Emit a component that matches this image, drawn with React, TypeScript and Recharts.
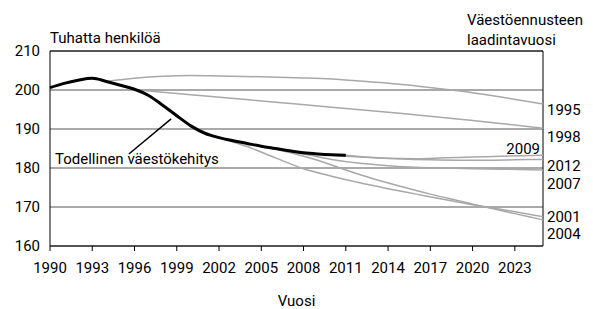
import { LineChart, Line, XAxis, YAxis, CartesianGrid, ReferenceLine } from 'recharts';

// Toteutunut väestökehitys (tuhatta henkilöä)
const actualYears = [1990, 1991, 1992, 1993, 1994, 1995, 1996, 1997, 1998, 1999, 2000, 2001, 2002, 2003, 2004, 2005, 2006, 2007, 2008, 2009, 2010, 2011];
const actualValues = [200.6, 201.7, 202.5, 203.0, 202.2, 201.2, 200.2, 198.6, 196.1, 193.4, 190.8, 188.9, 187.8, 187.0, 186.3, 185.6, 185.0, 184.4, 183.9, 183.6, 183.4, 183.3];

// Ennusteet laadintavuoden mukaan
const years1995 = [1994, 1996, 1998, 2000, 2002, 2005, 2008, 2010, 2012, 2015, 2018, 2020, 2022, 2025];
const values1995 = [202.2, 203.0, 203.5, 203.7, 203.6, 203.4, 203.1, 202.8, 202.3, 201.4, 200.2, 199.3, 198.2, 196.4];

const years1998 = [1996, 2000, 2005, 2010, 2015, 2020, 2025];
const values1998 = [200.1, 198.8, 197.2, 195.6, 194.0, 192.2, 190.2];

const years2001 = [2000, 2002, 2004, 2006, 2008, 2010, 2012, 2014, 2016, 2018, 2020, 2022, 2025];
const values2001 = [190.8, 187.8, 185.5, 182.6, 179.8, 177.9, 176.2, 174.7, 173.3, 171.9, 170.6, 169.4, 167.5];

const years2004 = [2003, 2005, 2007, 2009, 2011, 2013, 2015, 2017, 2019, 2021, 2023, 2025];
const values2004 = [187.0, 185.6, 184.0, 182.0, 179.5, 177.2, 175.2, 173.3, 171.6, 169.9, 168.3, 166.7];

const years2007 = [2006, 2008, 2010, 2012, 2014, 2016, 2018, 2020, 2022, 2025];
const values2007 = [185.0, 183.6, 182.2, 181.2, 180.6, 180.2, 180.0, 179.8, 179.7, 179.5];

const years2009 = [2008, 2010, 2012, 2014, 2016, 2018, 2020, 2022, 2025];
const values2009 = [184.0, 183.3, 182.8, 182.5, 182.4, 182.6, 182.8, 183.0, 183.3];

const years2012 = [2011, 2013, 2015, 2017, 2019, 2021, 2023, 2025];
const values2012 = [183.3, 182.7, 182.3, 182.1, 182.0, 182.0, 182.1, 182.2];

const xTicks = [1990, 1993, 1996, 1999, 2002, 2005, 2008, 2011, 2014, 2017, 2020, 2023];
const yTicks = [160, 170, 180, 190, 200, 210];

const toRows = (years: number[], values: number[]) => years.map((year, i) => ({ year, value: values[i] }));

const FONT = 'Roboto, "Open Sans", sans-serif';
const GREY = '#a8a8a8';

// näyttää laadintavuoden sarjan viimeisen pisteen kohdalla
const endLabel = (text: string, count: number, dy: number, inside = false) => (props: any) => {
  if (props.index !== count - 1) return null;
  return (
    <text
      x={props.x + (inside ? -3 : 4)}
      y={props.y + dy}
      textAnchor={inside ? 'end' : 'start'}
      fontFamily={FONT}
      fontSize={15}
      fill="#000"
    >
      {text}
    </text>
  );
};

const forecasts = [
  { name: '1995', years: years1995, values: values1995, dy: 10.7, inside: false },
  { name: '1998', years: years1998, values: values1998, dy: 13.8, inside: false },
  { name: '2001', years: years2001, values: values2001, dy: 5, inside: false },
  { name: '2004', years: years2004, values: values2004, dy: 19.5, inside: false },
  { name: '2007', years: years2007, values: values2007, dy: 19, inside: false },
  { name: '2009', years: years2009, values: values2009, dy: -1, inside: true },
  { name: '2012', years: years2012, values: values2012, dy: 11.8, inside: false },
];

export default function App() {
  return (
    <div style={{ position: 'absolute', left: 0, top: 0, width: 593, height: 309, background: '#fff' }}>
      <LineChart width={593} height={309} margin={{ top: 51, right: 50, bottom: 0, left: 0 }}>
        <CartesianGrid vertical={false} stroke="#555" />
        <XAxis
          dataKey="year"
          type="number"
          domain={[1990, 2025]}
          ticks={xTicks}
          interval={0}
          height={63}
          stroke="#000"
          tickSize={5}
          tickMargin={11}
          tick={{ fill: '#000', fontSize: 15, fontFamily: FONT }}
          allowDuplicatedCategory={false}
        />
        <YAxis
          type="number"
          domain={[160, 210]}
          ticks={yTicks}
          width={50}
          stroke="#000"
          tickLine={false}
          tickMargin={4}
          tick={{ fill: '#000', fontSize: 15, fontFamily: FONT }}
        />
        <ReferenceLine y={210} stroke="#000" />
        <ReferenceLine x={2025} stroke="#000" />
        {forecasts.map((f) => (
          <Line
            key={f.name}
            data={toRows(f.years, f.values)}
            dataKey="value"
            type="monotone"
            stroke={GREY}
            strokeWidth={1.5}
            dot={false}
            isAnimationActive={false}
            label={endLabel(f.name, f.years.length, f.dy, f.inside)}
          />
        ))}
        <Line
          data={toRows(actualYears, actualValues)}
          dataKey="value"
          type="monotone"
          stroke="#000"
          strokeWidth={3}
          dot={false}
          isAnimationActive={false}
        />
        <ReferenceLine
          segment={[{ x: 1995.6, y: 183.6 }, { x: 1998.6, y: 192.6 }]}
          stroke="#000"
          strokeWidth={1.5}
          ifOverflow="visible"
        />
      </LineChart>
      <svg width={593} height={309} style={{ position: 'absolute', left: 0, top: 0, pointerEvents: 'none' }}>
        <g fontFamily={FONT} fontSize={15} fill="#000">
          <text x={50} y={43}>Tuhatta henkilöä</text>
          <text x={467} y={25}>Väestöennusteen</text>
          <text x={467} y={45}>laadintavuosi</text>
          <text x={55} y={164}>Todellinen väestökehitys</text>
          <text x={296.5} y={306} textAnchor="middle">Vuosi</text>
        </g>
      </svg>
    </div>
  );
}
